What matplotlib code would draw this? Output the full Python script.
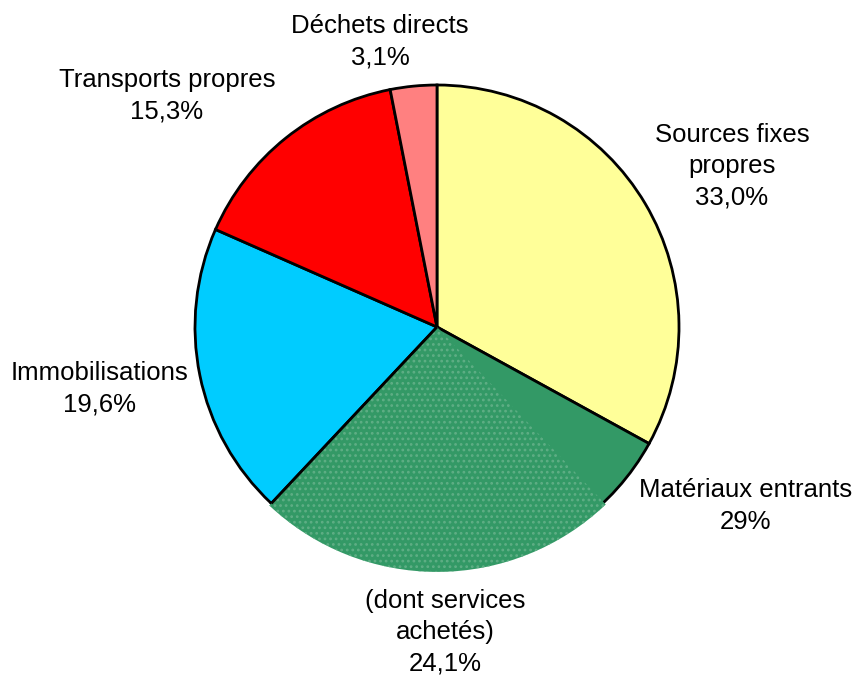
import matplotlib.pyplot as plt
from matplotlib.patches import Wedge
import numpy as np

plt.rcParams['font.family'] = ['Liberation Sans', 'DejaVu Sans']
plt.rcParams['hatch.linewidth'] = 1.2

labels = ['Sources fixes\npropres\n33,0%', 'Matériaux entrants\n29%', 'Immobilisations\n19,6%',
          'Transports propres\n15,3%', 'Déchets directs\n3,1%']
shares = [33.0, 29.0, 19.6, 15.3, 3.1]
colors = ['#FFFF99', '#339966', '#00CCFF', '#FF0000', '#FF8080']
services = 24.1  # part of "Matériaux entrants"
services_label = '(dont services\nachetés)\n24,1%'

# label centres, in pie radius units
label_pos = [(1.219, 0.665), (1.273, -0.74), (-1.393, -0.256), (-1.116, 0.955), (-0.236, 1.18)]
services_pos = (0.033, -1.26)

fig = plt.figure(figsize=(8.54, 6.75), dpi=100)
ax = fig.add_axes([0, 0, 1, 1])
R = 1.0
cx, cy = 0.0, 0.0
wedges, _ = ax.pie(shares, colors=colors, startangle=90, counterclock=False, radius=R,
                   wedgeprops=dict(edgecolor='black', linewidth=2))

# dotted sub-slice inside the green one, next to the blue slice
w_green = wedges[1]
t1 = w_green.theta1
t2 = t1 + 360 * services / sum(shares)
sub = Wedge((cx, cy), R * 1.012, t1, t2, facecolor='#339966', edgecolor='#5FAE85',
            hatch='...', linewidth=0, zorder=3)
ax.add_patch(sub)
a = np.deg2rad(t1)
ax.plot([cx, cx + R * np.cos(a)], [cy, cy + R * np.sin(a)], color='black', lw=2,
        solid_capstyle='butt', zorder=4)

for lab, (x, y) in zip(labels, label_pos):
    ax.text(x, y, lab, ha='center', va='center', fontsize=18.5, linespacing=1.38)
ax.text(services_pos[0], services_pos[1], services_label, ha='center', va='center',
        fontsize=18.5, linespacing=1.38)

ax.set_xlim(-437 / 242, 417 / 242)
ax.set_ylim(-348 / 242, 327 / 242)
ax.set_aspect('equal')
ax.axis('off')
fig.savefig('out.png', dpi=100)
